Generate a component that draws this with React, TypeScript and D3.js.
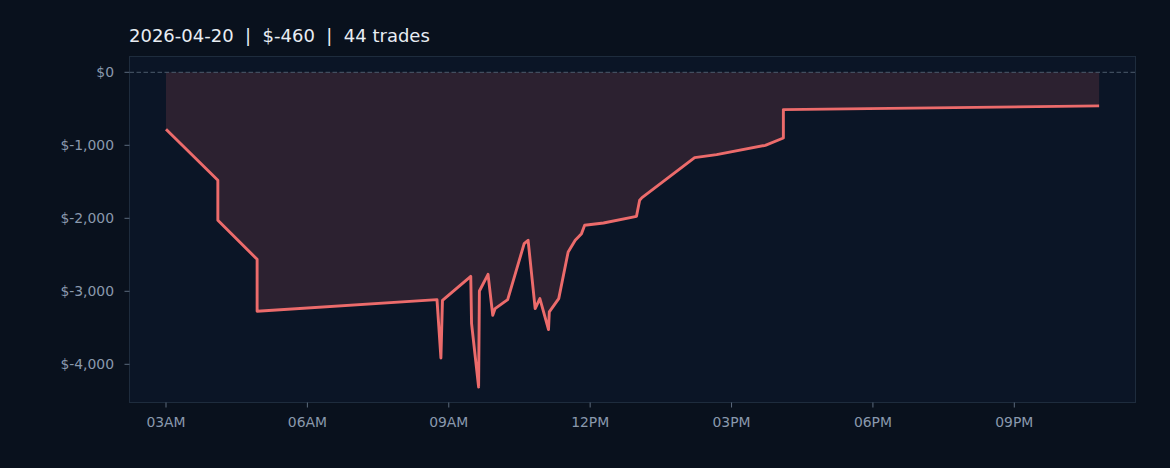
import React from "react";
import * as d3 from "d3";

const times: string[] = [
  "03:00", "04:06", "04:06", "04:56", "04:56", "08:45", "08:50", "08:52",
  "09:28", "09:29", "09:38", "09:39", "09:50", "09:56", "09:59", "10:15",
  "10:36", "10:41", "10:50", "10:56", "11:07", "11:08", "11:20", "11:32",
  "11:41", "11:49", "11:53", "12:17", "12:59", "13:03", "13:06", "14:13",
  "14:41", "15:43", "16:06", "16:06", "22:48",
];
const pnl: number[] = [
  -781, -1479, -2027, -2562, -3274, -3114, -3913, -3123,
  -2795, -3440, -4311, -2996, -2767, -3329, -3237, -3114,
  -2347, -2301, -3237, -3100, -3525, -3283, -3100, -2461,
  -2301, -2210, -2096, -2064, -1973, -1753, -1717, -1169,
  -1128, -1000, -900, -511, -460,
];
const yTicks: number[] = [0, -1000, -2000, -3000, -4000];
const titleText = "2026-04-20  |  $-460  |  44 trades";

const W = 1170;
const H = 468;
const FONT = "'DejaVu Sans', sans-serif";

const toDate = (s: string) => {
  const [h, m] = s.split(":").map(Number);
  return new Date(2026, 3, 20, h, m);
};

export default function App() {
  const box = { left: 129.5, right: 1135.5, top: 56.5, bottom: 402.5 };
  const x = d3
    .scaleTime()
    .domain([new Date(2026, 3, 20, 3, 0), new Date(2026, 3, 20, 21, 0)])
    .range([166, 1014.3]);
  const y = d3.scaleLinear().domain([0, -4000]).range([72.3, 364.3]);

  const data = times.map((t, i) => ({ t: toDate(t), v: pnl[i] }));
  const line = d3
    .line<{ t: Date; v: number }>()
    .x((d) => x(d.t))
    .y((d) => y(d.v));
  const area = d3
    .area<{ t: Date; v: number }>()
    .x((d) => x(d.t))
    .y0(() => y(0))
    .y1((d) => y(d.v));

  const xTicks = d3.timeHour
    .every(3)!
    .range(new Date(2026, 3, 20, 3, 0), new Date(2026, 3, 20, 22, 0));
  const fmtX = d3.timeFormat("%I%p");
  const fmtY = (v: number) =>
    `$${v < 0 ? "-" : ""}${d3.format(",")(Math.abs(v))}`;

  const tickColor = "#8a99ad";
  const axisColor = "#5c6b7d";

  return (
    <svg
      width={W}
      height={H}
      style={{ position: "fixed", left: 0, top: 0, display: "block" }}
      fontFamily={FONT}
    >
      <rect x={0} y={0} width={W} height={H} fill="#09111d" />
      <rect
        x={box.left}
        y={box.top}
        width={box.right - box.left}
        height={box.bottom - box.top}
        fill="#0b1526"
      />
      <path d={area(data) ?? ""} fill="#ec6b6b" fillOpacity={0.15} />
      <line
        x1={box.left}
        x2={box.right}
        y1={y(0)}
        y2={y(0)}
        stroke="#4c5b6c"
        strokeWidth={1}
        strokeDasharray="4.5,2.5"
      />
      <path
        d={line(data) ?? ""}
        fill="none"
        stroke="#ec6b6b"
        strokeWidth={2.9}
        strokeLinejoin="round"
        strokeLinecap="butt"
      />
      <rect
        x={box.left}
        y={box.top}
        width={box.right - box.left}
        height={box.bottom - box.top}
        fill="none"
        stroke="#1e2c3d"
        strokeWidth={1}
      />
      {yTicks.map((v) => (
        <g key={v}>
          <line
            x1={box.left - 5}
            x2={box.left}
            y1={y(v)}
            y2={y(v)}
            stroke={axisColor}
            strokeWidth={1}
          />
          <text
            x={114}
            y={y(v)}
            dy="0.35em"
            textAnchor="end"
            fontSize={13.9}
            fill={tickColor}
          >
            {fmtY(v)}
          </text>
        </g>
      ))}
      {xTicks.map((d) => (
        <g key={d.getTime()}>
          <line
            x1={x(d)}
            x2={x(d)}
            y1={box.bottom}
            y2={box.bottom + 5}
            stroke={axisColor}
            strokeWidth={1}
          />
          <text
            x={x(d)}
            y={427}
            textAnchor="middle"
            fontSize={13.9}
            fill={tickColor}
          >
            {fmtX(d)}
          </text>
        </g>
      ))}
      <text
        x={129}
        y={42.3}
        fontSize={18}
        fill="#e8edf3"
        style={{ whiteSpace: "pre" }}
      >
        {titleText}
      </text>
    </svg>
  );
}
